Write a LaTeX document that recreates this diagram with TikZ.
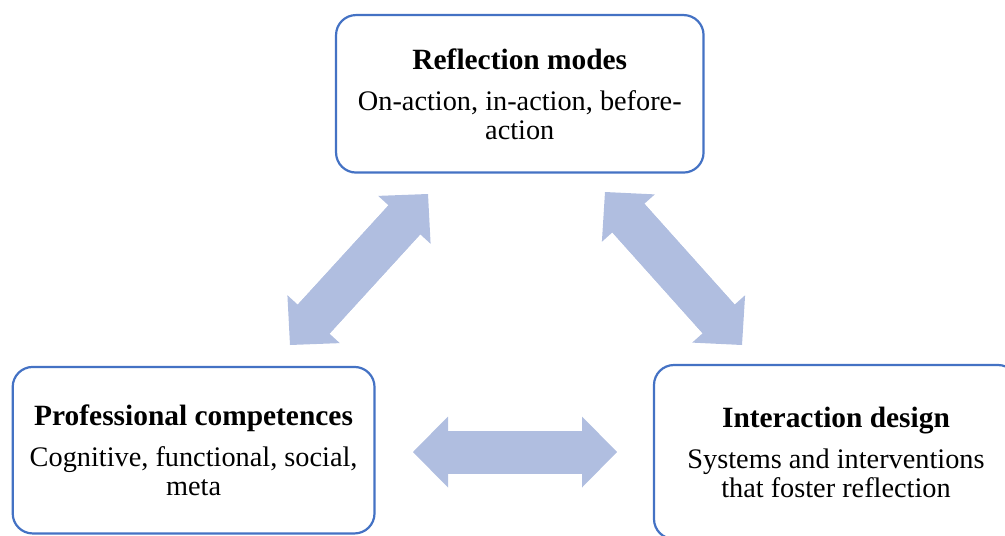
\documentclass[tikz,border=0pt]{standalone}
\usepackage{fontspec}
\setmainfont{Liberation Serif}
\usepackage{tikz}
\usetikzlibrary{arrows.meta}
\definecolor{boxblue}{RGB}{68,114,196}
\definecolor{arrowblue}{RGB}{176,190,224}

\newcommand{\boxtitle}[1]{{\fontsize{29.4}{29}\selectfont\bfseries #1}}

\tikzset{
  themebox/.style={draw=boxblue, line width=2.2pt, rounded corners=20pt, fill=white,
    align=center, inner sep=0pt, font=\fontsize{28.3}{28.5}\selectfont},
  fatarrow/.style={draw=arrowblue, line width=43pt,
    {Triangle[width=71pt,length=35pt,line width=0pt]}-{Triangle[width=71pt,length=35pt,line width=0pt]},
    postaction={draw=arrowblue, line width=43pt, arrows=-, shorten <=33pt, shorten >=33pt}}
}

\begin{document}
\begin{tikzpicture}[x=1pt,y=-1pt]
\useasboundingbox (0,0) rectangle (1005,536);

% Draw boxes
\node[themebox, minimum width=367.5pt, minimum height=157.5pt] (modes) at (519.8, 93.8)
  {\boxtitle{Reflection modes}\\[13pt] On-action, in-action, before-\\ action};
\node[themebox, minimum width=361.8pt, minimum height=166.5pt] (compet) at (193.6, 450.2)
  {\boxtitle{Professional competences}\\[13pt] Cognitive, functional, social,\\ meta};
\node[themebox, minimum width=364pt, minimum height=174pt] (design) at (836, 452)
  {\boxtitle{Interaction design}\\[13pt] Systems and interventions\\ that foster reflection};

% Arrow ends
\coordinate (mc) at (428,194);
\coordinate (cm) at (290,345);
\coordinate (md) at (605,192);
\coordinate (dm) at (742,345);
\coordinate (cd) at (413,452);
\coordinate (dc) at (617,452);

% Arrows
\draw[fatarrow] (cm) -- (mc);
\draw[fatarrow] (md) -- (dm);
\draw[fatarrow] (cd) -- (dc);
\end{tikzpicture}
\end{document}
